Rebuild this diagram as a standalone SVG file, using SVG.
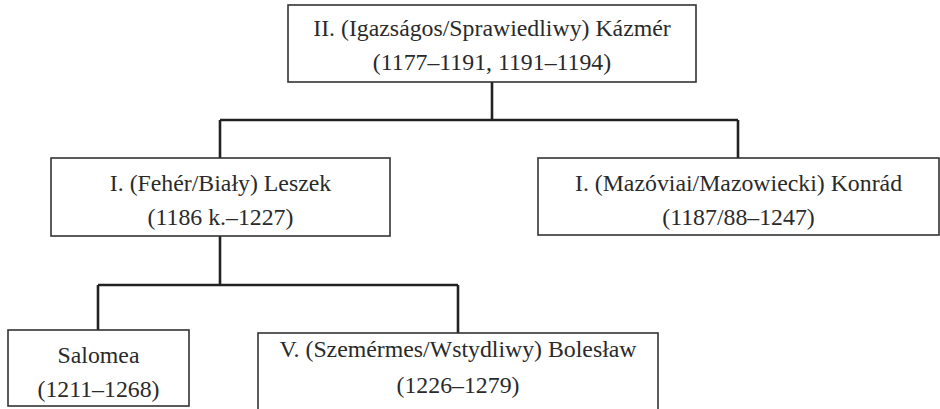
<svg xmlns="http://www.w3.org/2000/svg" width="940" height="409" viewBox="0 0 940 409">
<style>
.box{fill:#fff;stroke:#333;stroke-width:1.6}
.t{font-family:"Liberation Serif","DejaVu Serif",serif;font-size:23.8px;fill:#2a2a2a;text-anchor:middle}
.c{fill:none;stroke:#222;stroke-width:2.6}
</style>
<rect width="940" height="409" fill="#fff"/>
<g id="connectors">
<path class="c" d="M492 82V120M220 120H738M220 120V158M738 120V158"/>
<path class="c" d="M220 236V285M98 285H458M98 285V330M458 285V333"/>
</g>
<g id="kazmer">
<rect class="box" x="288" y="5" width="408" height="77"/>
<text class="t" x="492" y="36">II. (Igazságos/Sprawiedliwy) Kázmér</text>
<text class="t" x="492" y="70">(1177–1191, 1191–1194)</text>
</g>
<g id="leszek">
<rect class="box" x="51" y="158" width="339" height="78"/>
<text class="t" x="220.5" y="191">I. (Fehér/Biały) Leszek</text>
<text class="t" x="220.5" y="225">(1186 k.–1227)</text>
</g>
<g id="konrad">
<rect class="box" x="538" y="158" width="401" height="77"/>
<text class="t" x="738.5" y="191">I. (Mazóviai/Mazowiecki) Konrád</text>
<text class="t" x="738.5" y="225">(1187/88–1247)</text>
</g>
<g id="salomea">
<rect class="box" x="8" y="330" width="181" height="76"/>
<text class="t" x="98.5" y="363">Salomea</text>
<text class="t" x="98.5" y="397">(1211–1268)</text>
</g>
<g id="boleslaw">
<rect class="box" x="258" y="333" width="400" height="80"/>
<text class="t" x="458" y="357">V. (Szemérmes/Wstydliwy) Bolesław</text>
<text class="t" x="458" y="393">(1226–1279)</text>
</g>
</svg>
